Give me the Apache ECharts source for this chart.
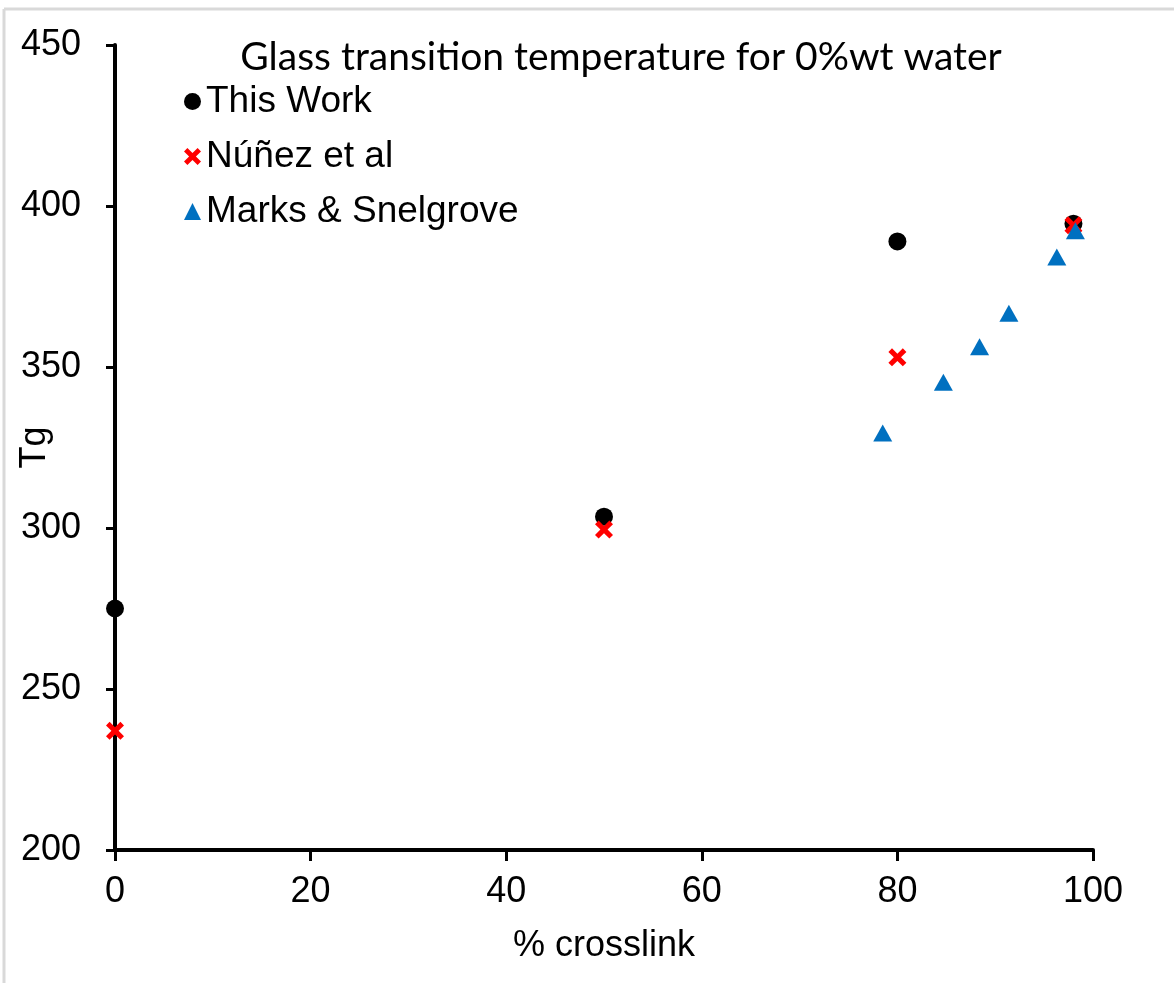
<!DOCTYPE html>
<html>
<head>
<meta charset="utf-8">
<script src="https://cdn.jsdelivr.net/npm/echarts@6/dist/echarts.min.js"></script>
<style>
html,body{margin:0;padding:0;background:#fff;}
#chart{width:1174px;height:983px;}
</style>
</head>
<body>
<div id="chart"></div>
<script>
const titleText = 'Glass transition temperature for 0%wt water';
const xAxisName = '% crosslink';
const yAxisName = 'Tg';
const seriesNames = ['This Work', 'Núñez et al', 'Marks & Snelgrove'];

const thisWorkX = [0, 50, 80, 98];
const thisWorkY = [275, 303.5, 389, 394.5];

const nunezX = [0, 50, 80, 98];
const nunezY = [237, 299.5, 353, 394];

const marksX = [78.5, 84.7, 88.4, 91.4, 96.3, 98.2];
const marksY = [329.5, 345.3, 356.3, 366.7, 384.2, 392.3];

const zip = (xs, ys) => xs.map((x, i) => [x, ys[i]]);

const crossPath = 'path://M2,0 L5,3 L8,0 L10,2 L7,5 L10,8 L8,10 L5,7 L2,10 L0,8 L3,5 L0,2 Z';

const chart = echarts.init(document.getElementById('chart'));
const font = '"Liberation Sans", Arial, sans-serif';

chart.setOption({
  animation: false,
  backgroundColor: '#ffffff',
  title: {
    text: titleText,
    left: 616,
    textAlign: 'center',
    top: 33,
    textStyle: { fontFamily: 'Lato, "Open Sans", sans-serif', fontWeight: 'normal', fontSize: 39, color: '#000' }
  },
  legend: {
    orient: 'vertical',
    left: 184,
    top: 83,
    itemWidth: 17,
    itemHeight: 17,
    itemGap: 18,
    padding: 0,
    textStyle: { fontFamily: font, fontSize: 37, color: '#000' },
    data: [
      { name: seriesNames[0], icon: 'circle' },
      { name: seriesNames[1], icon: crossPath },
      { name: seriesNames[2], icon: 'triangle' }
    ]
  },
  graphic: [
    { type: 'line', shape: { x1: 4, y1: 9, x2: 1174, y2: 9 }, style: { stroke: '#d9d9d9', lineWidth: 3 }, silent: true },
    { type: 'line', shape: { x1: 4, y1: 9, x2: 4, y2: 983 }, style: { stroke: '#d9d9d9', lineWidth: 3 }, silent: true }
  ],
  grid: { left: 115, top: 45, width: 978, height: 805, containLabel: false, outerBoundsMode: 'none' },
  xAxis: {
    type: 'value',
    min: 0, max: 100, interval: 20,
    name: xAxisName,
    nameLocation: 'middle',
    nameGap: 78,
    nameMoveOverlap: false,
    nameTextStyle: { fontFamily: font, fontSize: 36, color: '#000' },
    axisLine: { show: true, onZero: false, lineStyle: { color: '#000', width: 4 } },
    axisTick: { show: true, length: 11, lineStyle: { color: '#000', width: 3 } },
    axisLabel: { margin: 24, fontFamily: font, fontSize: 36, color: '#000' },
    splitLine: { show: false }
  },
  yAxis: {
    type: 'value',
    min: 200, max: 450, interval: 50,
    name: yAxisName,
    nameLocation: 'middle',
    nameRotate: 90,
    nameGap: 62,
    nameMoveOverlap: false,
    nameTextStyle: { fontFamily: font, fontSize: 36, color: '#000' },
    axisLine: { show: true, onZero: false, lineStyle: { color: '#000', width: 4 } },
    axisTick: { show: true, length: 9, lineStyle: { color: '#000', width: 3 } },
    axisLabel: { margin: 34, fontFamily: font, fontSize: 36, color: '#000' },
    splitLine: { show: false }
  },
  series: [
    {
      name: seriesNames[0], type: 'scatter', symbol: 'circle', symbolSize: 18,
      itemStyle: { color: '#000000', opacity: 1 },
      data: zip(thisWorkX, thisWorkY), z: 2
    },
    {
      name: seriesNames[1], type: 'scatter', symbol: crossPath, symbolSize: 18,
      itemStyle: { color: '#ff0000', opacity: 1 },
      data: zip(nunezX, nunezY), z: 3
    },
    {
      name: seriesNames[2], type: 'scatter', symbol: 'triangle', symbolSize: [19, 17],
      itemStyle: { color: '#0070c0', opacity: 1 },
      data: zip(marksX, marksY), z: 4
    }
  ]
});
</script>
</body>
</html>
